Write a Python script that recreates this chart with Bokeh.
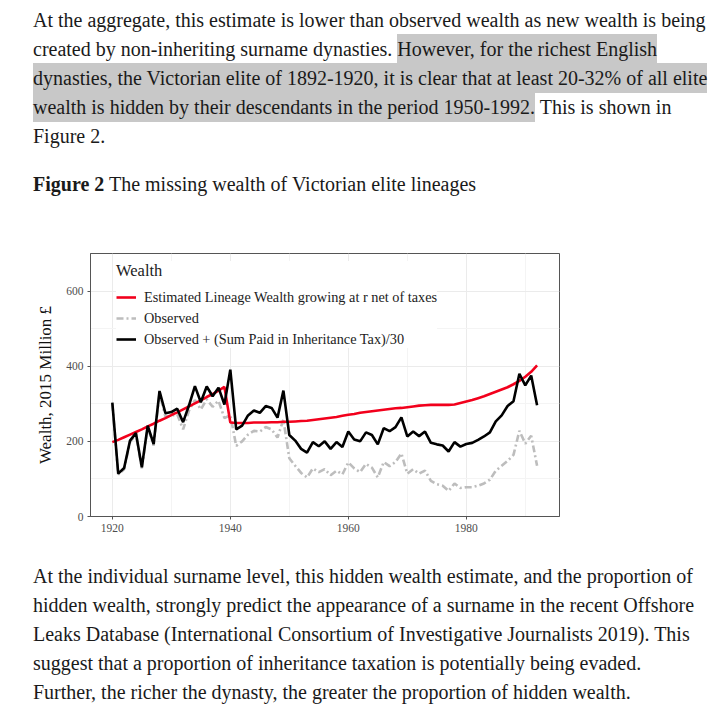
from bokeh.plotting import figure
from bokeh.models import Div, Range1d, FixedTicker, Legend, LegendItem, ColumnDataSource
from bokeh.layouts import column
from bokeh.embed import file_html
from bokeh.resources import INLINE

years = list(range(1920, 1993))

estimated = [198, 204, 211, 218, 225, 232, 240, 247, 255, 262,
             270, 277, 285, 293, 301, 309, 318, 326, 335, 345,
             250, 249, 249, 249, 250, 250, 250, 251, 251, 252,
             252, 253, 254, 255, 257, 259, 261, 263, 265, 268,
             271, 273, 276, 278, 280, 282, 284, 286, 288, 289,
             291, 293, 295, 296, 297, 297, 297, 297, 298, 302,
             306, 310, 315, 320, 326, 332, 338, 344, 352, 361,
             372, 385, 402]

observed = [300, 112, 126, 198, 218, 128, 238, 189, 328, 266,
            268, 272, 232, 282, 310, 285, 312, 292, 308, 262,
            270, 188, 200, 218, 228, 226, 238, 232, 210, 258,
            155, 135, 116, 104, 128, 118, 126, 110, 122, 112,
            144, 128, 118, 140, 130, 104, 145, 134, 145, 168,
            114, 126, 114, 122, 95, 86, 82, 68, 88, 76,
            78, 78, 82, 88, 98, 122, 135, 148, 164, 228,
            194, 215, 135]

observed_plus_tax = [303, 114, 129, 202, 222, 131, 242, 193, 334, 275,
                     278, 287, 251, 296, 347, 304, 346, 320, 343, 298,
                     391, 232, 242, 269, 282, 276, 294, 289, 263, 335,
                     217, 202, 180, 170, 198, 187, 200, 180, 198, 185,
                     226, 205, 200, 224, 217, 192, 235, 227, 238, 264,
                     213, 226, 214, 226, 196, 192, 189, 173, 198, 186,
                     193, 196, 204, 213, 224, 253, 269, 294, 307, 380,
                     349, 375, 296]

x_ticks = [1920, 1940, 1960, 1980]
x_minor = [1930, 1950, 1970, 1990]
y_ticks = [0, 200, 400, 600]
y_minor = [100, 300, 500, 700]

legend_title = "Wealth"
label_est = "Estimated Lineage Wealth growing at r net of taxes"
label_obs = "Observed"
label_tax = "Observed + (Sum Paid in Inheritance Tax)/30"
y_label = "Wealth, 2015 Million \u00a3"

SERIF = "Liberation Serif"
TEXTFONT = "'Liberation Serif', serif"

src = ColumnDataSource(dict(year=years, est=estimated, obs=observed, tax=observed_plus_tax))

p = figure(width=569, height=316, output_backend="svg", toolbar_location=None,
           x_range=Range1d(1916.3, 1995.8), y_range=Range1d(0, 700),
           min_border_left=90, min_border_right=10, min_border_top=23, min_border_bottom=30)
p.frame_width = 469
p.frame_height = 263
p.background_fill_color = "white"
p.border_fill_color = "white"
p.outline_line_color = "#555555"
p.outline_line_width = 1

p.xaxis.ticker = FixedTicker(ticks=x_ticks, minor_ticks=x_minor)
p.yaxis.ticker = FixedTicker(ticks=y_ticks, minor_ticks=y_minor)
for ax in (p.xaxis[0], p.yaxis[0]):
    ax.axis_line_color = "#555555"
    ax.major_tick_line_color = "#555555"
    ax.major_tick_in = 0
    ax.major_tick_out = 3
    ax.minor_tick_line_color = None
    ax.major_label_text_font = SERIF
    ax.major_label_text_font_size = "11.5px"
    ax.major_label_text_color = "#4d4d4d"
    ax.major_label_standoff = 3
p.yaxis.axis_label = y_label
p.yaxis.axis_label_text_font = SERIF
p.yaxis.axis_label_text_font_size = "17px"
p.yaxis.axis_label_text_font_style = "normal"
p.yaxis.axis_label_text_color = "#111111"
p.yaxis.axis_label_standoff = 8

p.xgrid.grid_line_color = "#ebebeb"
p.ygrid.grid_line_color = "#ebebeb"
p.xgrid.minor_grid_line_color = "#f4f4f4"
p.ygrid.minor_grid_line_color = "#f4f4f4"

r_obs = p.line("year", "obs", source=src, line_color="#bdbdbd", line_width=2.6, line_dash="7 3 2 3")
r_est = p.line("year", "est", source=src, line_color="#f2001c", line_width=2.6)
r_tax = p.line("year", "tax", source=src, line_color="#000000", line_width=2.6)

legend = Legend(items=[LegendItem(label=label_est, renderers=[r_est]),
                       LegendItem(label=label_obs, renderers=[r_obs]),
                       LegendItem(label=label_tax, renderers=[r_tax])],
                location=(26, 168), title=legend_title,
                title_text_font=SERIF, title_text_font_size="16.5px", title_text_font_style="normal",
                title_text_color="#222222", title_standoff=7,
                label_text_font=SERIF, label_text_font_size="14.3px", label_text_color="#222222",
                label_height=18, glyph_height=18, glyph_width=20, spacing=3, label_standoff=8,
                padding=8, margin=0, border_line_color=None,
                background_fill_color="white", background_fill_alpha=1.0)
p.add_layout(legend)

hl = "background:#c8c8c8;padding:4px 0;-webkit-box-decoration-break:clone;box-decoration-break:clone;"
top_html = (
    f'<div style="font-family:{TEXTFONT};font-size:20px;line-height:29px;color:#1a1a1a;'
    'padding-left:33px;padding-top:6px;white-space:nowrap;">'
    'At the aggregate, this estimate is lower than observed wealth as new wealth is being<br>'
    f'created by non-inheriting surname dynasties. <span style="{hl}">However, for the richest English</span><br>'
    f'<span style="{hl}">dynasties, the Victorian elite of 1892-1920, it is clear that at least 20-32% of all elite</span><br>'
    f'<span style="{hl}">wealth is hidden by their descendants in the period 1950-1992.</span> This is shown in<br>'
    'Figure 2.'
    '<div style="margin-top:19px;"><b>Figure 2</b> The missing wealth of Victorian elite lineages</div>'
    '</div>'
)
bottom_html = (
    f'<div style="font-family:{TEXTFONT};font-size:20px;line-height:29px;color:#1a1a1a;'
    'padding-left:33px;padding-top:16px;white-space:nowrap;">'
    'At the individual surname level, this hidden wealth estimate, and the proportion of<br>'
    'hidden wealth, strongly predict the appearance of a surname in the recent Offshore<br>'
    'Leaks Database (International Consortium of Investigative Journalists 2019). This<br>'
    'suggest that a proportion of inheritance taxation is potentially being evaded.<br>'
    'Further, the richer the dynasty, the greater the proportion of hidden wealth.'
    '</div>'
)

top = Div(text=top_html, width=717, height=230, margin=0)
bottom = Div(text=bottom_html, width=717, height=167, margin=0)

layout = column(top, p, bottom, spacing=0)
open("out.html", "w").write(file_html(layout, INLINE))
